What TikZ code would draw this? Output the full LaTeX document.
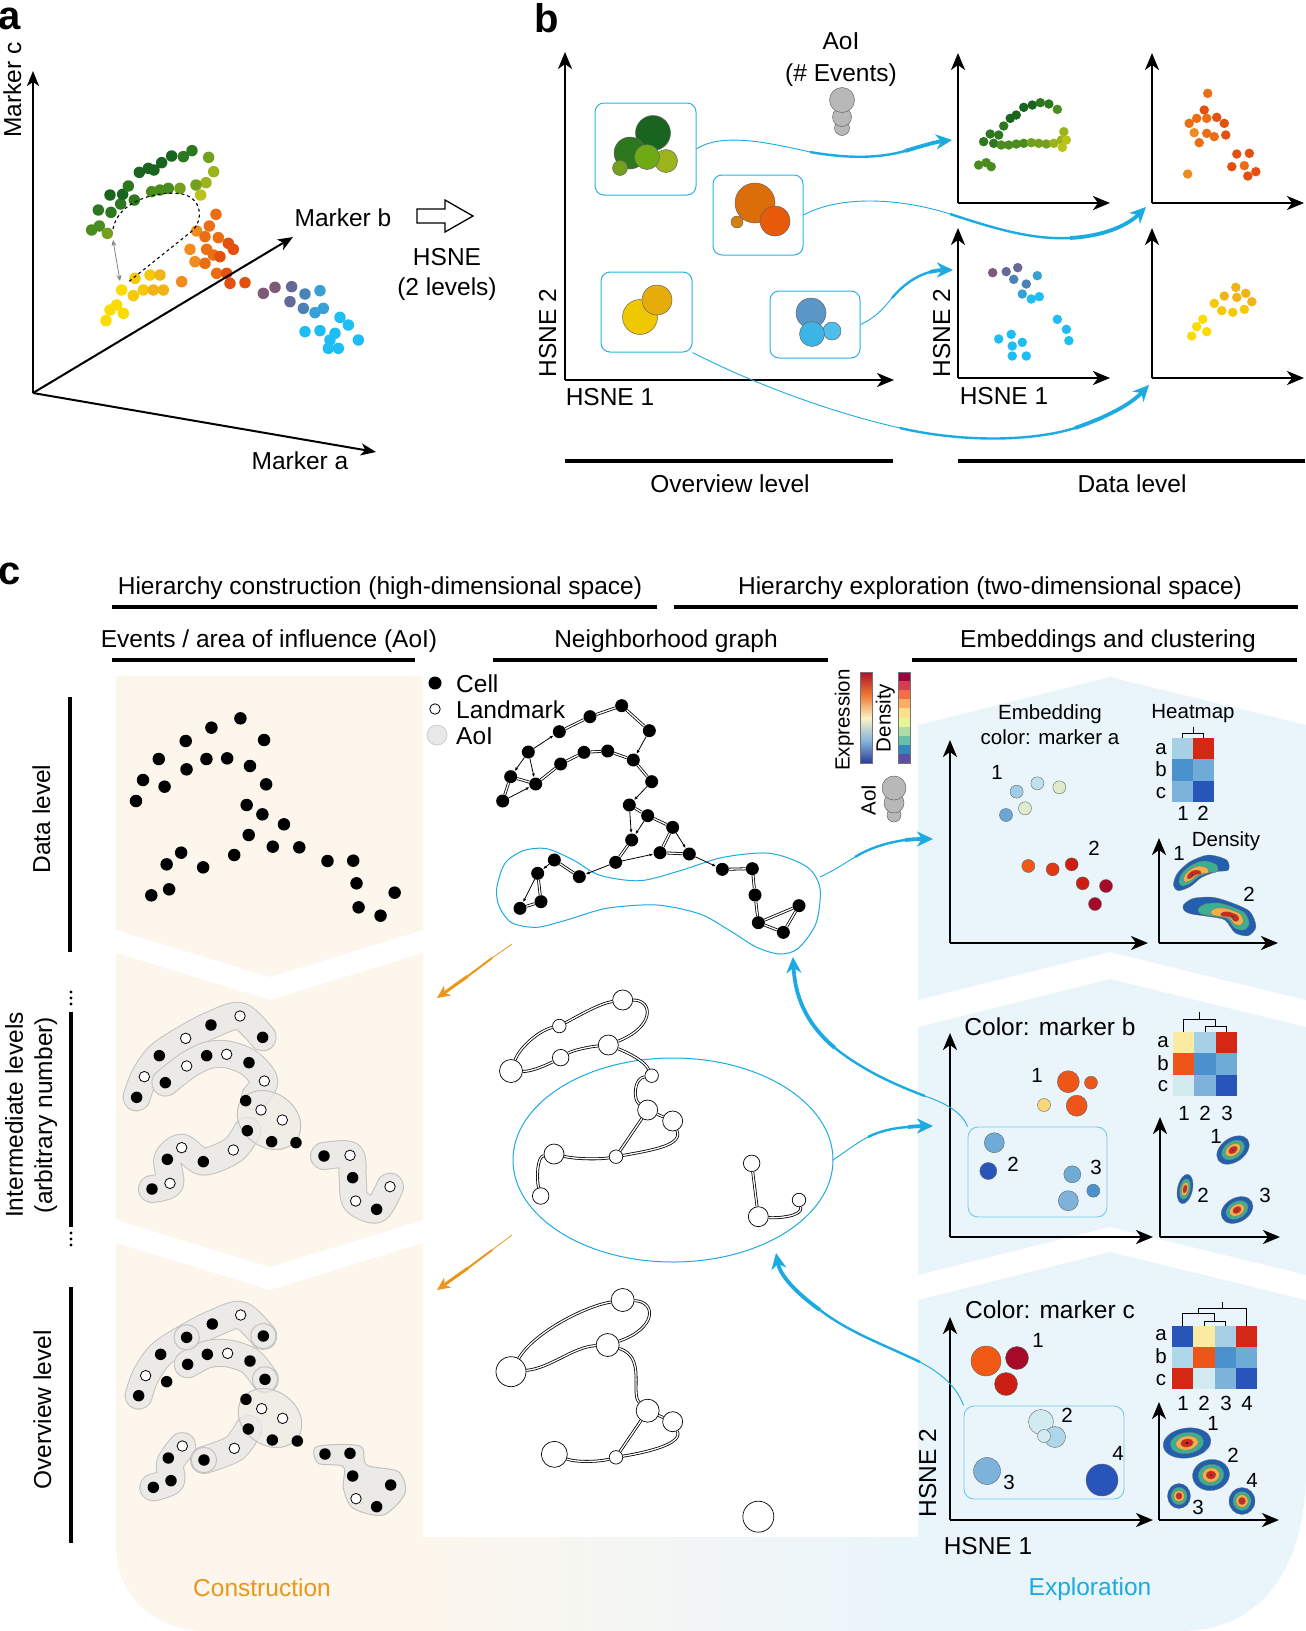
\documentclass[tikz,border=0pt]{standalone}
\usepackage{fontspec}
\setmainfont{Liberation Sans}
\usetikzlibrary{arrows.meta}
\definecolor{cyanA}{RGB}{27,170,226}
\definecolor{boxC}{RGB}{45,175,230}
\definecolor{boxD}{RGB}{110,200,236}
\definecolor{orA}{RGB}{236,150,25}
\definecolor{beigeC}{RGB}{252,246,237}
\definecolor{blueC}{RGB}{233,245,251}
\definecolor{gA}{RGB}{25,100,30}
\definecolor{gB}{RGB}{45,120,30}
\definecolor{gC}{RGB}{75,140,30}
\definecolor{gD}{RGB}{115,160,30}
\definecolor{gE}{RGB}{155,180,30}
\definecolor{gF}{RGB}{185,195,25}
\definecolor{oA}{RGB}{240,140,30}
\definecolor{oB}{RGB}{235,110,20}
\definecolor{oC}{RGB}{228,80,15}
\definecolor{yA}{RGB}{250,220,0}
\definecolor{yB}{RGB}{246,200,10}
\definecolor{yC}{RGB}{240,180,20}
\definecolor{pA}{RGB}{125,90,120}
\definecolor{pB}{RGB}{100,105,150}
\definecolor{pC}{RGB}{75,130,180}
\definecolor{pD}{RGB}{55,160,215}
\definecolor{pE}{RGB}{30,190,245}
\definecolor{bO1}{RGB}{220,110,10}
\definecolor{bO2}{RGB}{230,90,10}
\definecolor{bO3}{RGB}{210,130,20}
\definecolor{bY1}{RGB}{240,200,0}
\definecolor{bY2}{RGB}{230,172,10}
\definecolor{bB1}{RGB}{90,150,200}
\definecolor{bB2}{RGB}{60,180,230}
\definecolor{bB3}{RGB}{80,190,235}
\definecolor{bG3}{RGB}{110,170,20}
\definecolor{hLB}{RGB}{165,208,230}
\definecolor{hLC}{RGB}{175,215,235}
\definecolor{hR}{RGB}{212,40,20}
\definecolor{hMB}{RGB}{75,145,205}
\definecolor{hB2}{RGB}{110,172,215}
\definecolor{hB3}{RGB}{125,178,218}
\definecolor{hDB}{RGB}{40,85,185}
\definecolor{hY}{RGB}{250,235,160}
\definecolor{hY2}{RGB}{250,215,120}
\definecolor{hO}{RGB}{238,85,25}
\definecolor{hPB}{RGB}{210,235,240}
\definecolor{eA}{RGB}{160,205,230}
\definecolor{eB}{RGB}{190,225,235}
\definecolor{eC}{RGB}{222,236,205}
\definecolor{eD}{RGB}{110,165,215}
\definecolor{eE}{RGB}{240,90,20}
\definecolor{eF}{RGB}{225,55,20}
\definecolor{eG}{RGB}{205,30,20}
\definecolor{eH}{RGB}{165,10,40}
\definecolor{dB}{RGB}{35,95,175}
\definecolor{dT}{RGB}{60,175,145}
\definecolor{dO}{RGB}{245,175,70}
\definecolor{dR}{RGB}{215,35,25}
\definecolor{dK}{RGB}{110,0,20}
\definecolor{blobE}{RGB}{196,194,190}
\definecolor{blobF}{RGB}{236,234,230}
\definecolor{exA}{RGB}{170,20,40}
\definecolor{exB}{RGB}{240,120,50}
\definecolor{exC}{RGB}{250,242,195}
\definecolor{exD}{RGB}{130,180,220}
\definecolor{exE}{RGB}{45,60,150}
\definecolor{sp1}{RGB}{158,1,66}
\definecolor{sp2}{RGB}{213,62,79}
\definecolor{sp3}{RGB}{244,109,67}
\definecolor{sp4}{RGB}{253,174,97}
\definecolor{sp5}{RGB}{254,224,139}
\definecolor{sp6}{RGB}{230,245,152}
\definecolor{sp7}{RGB}{171,221,164}
\definecolor{sp8}{RGB}{102,194,165}
\definecolor{sp9}{RGB}{50,136,189}
\definecolor{sp10}{RGB}{94,79,162}
\begin{document}
\begin{tikzpicture}[x=1pt,y=-1pt,
  txt/.style={font=\fontsize{24.5}{28}\selectfont, inner sep=0pt, text height=18pt, text depth=0pt},
  stxt/.style={font=\fontsize{20.5}{24}\selectfont, inner sep=0pt, text height=15pt, text depth=0pt},
  bigl/.style={font=\fontsize{40}{44}\selectfont\bfseries, inner sep=0pt},
  pdot/.style={circle, inner sep=0pt, minimum size=#1},
  pdot/.default=11.5pt,
  axisA/.style={line width=2pt, -{Stealth[length=15pt,width=12pt,inset=4pt]}},
  axisB/.style={line width=2.4pt, -{Stealth[length=17pt,width=14pt,inset=5pt]}},
  hbar/.style={line width=4pt},
  t1/.style={draw=cyanA, line width=0.9pt},
  t2/.style={draw=cyanA, line width=2.4pt},
  t3/.style={draw=cyanA, line width=3.8pt, -{Stealth[length=16pt,width=15pt,inset=5pt]}},
  o1/.style={draw=orA, line width=0.8pt},
  o2/.style={draw=orA, line width=2pt},
  o3/.style={draw=orA, line width=3pt, -{Stealth[length=13pt,width=12pt,inset=4pt]}},
  gnode/.style={circle, fill=black, inner sep=0pt, minimum size=13pt},
  lnode/.style={circle, draw=black, fill=white, line width=0.7pt, inner sep=0pt, minimum size=#1},
  lnode/.default=16pt,
  opn/.style={circle, draw=black, fill=white, line width=0.8pt, inner sep=0pt, minimum size=10.5pt},
  fil/.style={circle, fill=black, inner sep=0pt, minimum size=11.5pt},
  dedge/.style={double, double distance=1.3pt, line width=0.8pt},
  sedge/.style={line width=0.8pt, -{Latex[length=4pt,width=3pt]}},
  bOut/.style={draw=blobE, line width=28pt, line cap=round, line join=round},
  bIn/.style={draw=blobF, line width=26pt, line cap=round, line join=round},
  embd/.style={circle, draw=black!60, line width=0.4pt, inner sep=0pt, minimum size=#1},
  embd/.default=13pt,
  selbox/.style={draw=boxC, line width=1pt, rounded corners=9pt, inner sep=0pt},
  selboxL/.style={draw=boxD, line width=0.9pt, rounded corners=10pt, inner sep=0pt},
  ball/.style={circle, fill=black!28, draw=black!60, line width=0.5pt, inner sep=0pt, minimum size=#1},
]
\useasboundingbox (0,0) rectangle (1306,1631);

%% ================= backgrounds of c
\fill[beigeC] (116,676) -- (423,676) -- (423,930) -- (270,977) -- (116,930) -- cycle;
\fill[beigeC] (116,953) -- (270,1000) -- (423,953) -- (423,1220) -- (270,1267) -- (116,1220) -- cycle;
\fill[beigeC] (116,1243) -- (270,1290) -- (423,1243) -- (423,1631) -- (206,1631) .. controls (156,1631) and (116,1597) .. (116,1547) -- cycle;
\shade[left color=beigeC, right color=blueC] (423,1537) rectangle (918,1631);
\fill[blueC] (918,725) -- (1110,677) -- (1306,725) -- (1306,1000) -- (1110,952) -- (918,1000) -- cycle;
\fill[blueC] (918,1027) -- (1110,979) -- (1306,1027) -- (1306,1275) -- (1110,1227) -- (918,1275) -- cycle;
\fill[blueC] (918,1300) -- (1110,1252) -- (1306,1300) -- (1306,1470) .. controls (1306,1570) and (1260,1631) .. (1180,1631) -- (918,1631) -- cycle;

%% ================= panel a
\node[bigl] (la) at (10,19) {a};
\node[txt, rotate=90] (lmc) at (12,90) {Marker c};
\coordinate (aO) at (33,393);
\coordinate (aC) at (33,71);
\coordinate (aB) at (293,237);
\coordinate (aA) at (376,452);
\begin{scope}[scale=0.33333]
\foreach \x/\y/\c [count=\i] in {275/690/gC, 298/678/gC, 322/700/gD, 295/630/gB, 333/637/gB, 362/612/gB, 330/585/gA, 368/583/gA, 403/600/gB, 385/558/gB, 418/517/gA, 445/505/gA, 462/510/gA, 485/488/gA, 515/468/gA, 550/470/gB, 576/452/gB, 626/472/gD, 641/515/gE, 618/548/gE, 588/555/gD, 602/585/gF, 455/575/gC, 480/570/gC, 505/565/gC, 540/565/gD,
 648/643/oB, 628/678/oB, 590/693/oA, 615/710/oB, 655/713/oB, 685/730/oC, 700/748/oC, 570/748/oA, 620/748/oB, 640/765/oB, 660/770/oC, 585/785/oA, 615/790/oB, 650/820/oB, 680/820/oC, 690/850/oC, 735/848/oC, 545/845/oA,
 405/835/yB, 450/825/yB, 480/825/yC, 365/870/yA, 400/887/yB, 430/870/yB, 460/870/yC, 490/870/yC, 350/915/yA, 330/930/yA, 370/940/yA, 318/962/yA,
 790/880/pA, 825/862/pA, 875/860/pB, 915/882/pC, 960/872/pD, 870/905/pB, 910/925/pC, 945/938/pD, 970/925/pD, 1020/952/pE, 1045/975/pE, 915/995/pE, 960/992/pE, 1005/1000/pE, 990/1020/pE, 1075/1020/pE, 985/1045/pE, 1015/1045/pE}
  \node[pdot, fill=\c] (ad\i) at (\x,\y) {};
\end{scope}
\draw[dashed, line width=1.1pt] (113,229) .. controls (118,200) and (160,190) .. (182,194) .. controls (202,198) and (204,220) .. (192,231) -- (127,283);
\draw[black!50, line width=0.8pt, {Stealth[length=6pt,width=5pt,open]}-{Stealth[length=6pt,width=5pt,open]}] (113,240) -- (120,281);
\draw[axisA] (aO) -- (aC);
\draw[axisA] (aO) -- (aB);
\draw[axisA] (aO) -- (aA);
\node[txt] (lmb) at (343,217) {Marker b};
\node[txt] (lma) at (300,460) {Marker a};
\draw[line width=1.3pt, line join=miter] (417,209) -- (445,209) -- (445,200) -- (473,216) -- (445,232) -- (445,223) -- (417,223) -- cycle;
\node[txt] (lhs) at (447,256) {HSNE};
\node[txt] (lhl) at (447,286) {(2 levels)};

%% ================= panel b
\node[bigl] (lb) at (547,18) {b};
\coordinate (bO) at (565,380);
\coordinate (bY) at (565,52);
\coordinate (bX) at (894,380);
\draw[axisB] (bO) -- (bY);
\draw[axisB] (bO) -- (bX);
\node[txt, rotate=90] (bh2) at (547,333) {HSNE 2};
\node[txt] (bh1) at (610,396) {HSNE 1};
\node[txt] (baoi) at (841,40) {AoI};
\node[txt] (bev) at (841,72) {(\# Events)};
\node[ball=15pt] (bg3) at (842,128) {};
\node[ball=19pt] (bg2) at (842,117) {};
\node[ball=25pt] (bg1) at (842,100) {};
\node[selbox, minimum width=101pt, minimum height=92pt] (boxG) at (645.5,149) {};
\node[selbox, minimum width=90pt, minimum height=80pt] (boxO) at (758,215) {};
\node[selbox, minimum width=91pt, minimum height=80pt] (boxY) at (646.5,312) {};
\node[selbox, minimum width=90pt, minimum height=67pt] (boxBl) at (815,324.5) {};
\begin{scope}[every node/.style={draw=black!60, line width=0.5pt}]
\node[pdot=35pt, fill=gA] (cg1) at (653,133) {};
\node[pdot=32pt, fill=gB] (cg2) at (630,153) {};
\node[pdot=23pt, fill=gE] (cg4) at (666,161) {};
\node[pdot=25pt, fill=bG3] (cg3) at (647,157) {};
\node[pdot=15pt, fill=gD] (cg5) at (620,168) {};
\node[pdot=12pt, fill=bO3] (co3) at (737,222) {};
\node[pdot=40pt, fill=bO1] (co1) at (755,203) {};
\node[pdot=30pt, fill=bO2] (co2) at (775,221) {};
\node[pdot=35pt, fill=bY1] (cy1) at (640,317) {};
\node[pdot=30pt, fill=bY2] (cy2) at (657,300) {};
\node[pdot=30pt, fill=bB1] (cb1) at (811,313) {};
\node[pdot=18pt, fill=bB3] (cb3) at (832,331) {};
\node[pdot=25pt, fill=bB2] (cb2) at (812,334) {};
\end{scope}
\foreach \ox/\oy [count=\i] in {958/203, 1152/203, 958/378, 1152/378} {
  \coordinate (so\i) at (\ox,\oy);
  \draw[axisB] (so\i) -- ++(0,-150);
  \draw[axisB] (so\i) -- ++(152,0);
}
\node[txt, rotate=90] (bh2b) at (941,333) {HSNE 2};
\node[txt] (bh1b) at (1004,395) {HSNE 1};
\begin{scope}[shift={(520,0)}, xscale=0.50125, yscale=0.33333]
\foreach \x/\y/\c [count=\i] in {915/495/gC, 930/488/gC, 940/500/gC, 925/425/gB, 938/402/gB, 955/405/gB, 945/430/gB, 965/378/gB, 978/355/gA, 990/345/gA, 1005/322/gA, 1022/315/gA, 1038/308/gB, 1055/312/gB, 1072/328/gC, 960/435/gC, 975/435/gC, 990/432/gC, 1005/430/gC, 1020/428/gD, 1035/430/gD, 1050/432/gD, 1065/430/gE, 1080/420/gE, 1085/395/gE, 1090/420/gF, 1082/442/gF,
 1372/280/oB, 1365/330/oC, 1335/370/oB, 1350/355/oB, 1370/355/oB, 1390/352/oC, 1405/370/oC, 1345/398/oA, 1370/400/oB, 1385/410/oB, 1408/405/oC, 1355/428/oB, 1430/462/oC, 1455/460/oC, 1420/500/oC, 1445/497/oB, 1468/515/oC, 1452/528/oC, 1332/522/oA,
 943/818/pA, 970/815/pB, 993/803/pB, 985/838/pC, 1010/852/pC, 1032/827/pD, 1002/882/pD, 1020/897/pE, 1036/890/pE, 955/1017/pE, 980/1003/pE, 982/1038/pE, 1002/1027/pE, 982/1068/pE, 1010/1068/pE, 1072/958/pE, 1090/988/pE, 1095/1022/pE,
 1428/862/yC, 1405/888/yC, 1430/892/yC, 1448/880/yC, 1460/905/yC, 1385/910/yB, 1400/932/yB, 1422/937/yB, 1445/928/yB, 1362/958/yA, 1350/980/yA, 1370/995/yA, 1340/1008/yA}
  \node[pdot=9.5pt, fill=\c] (bd\i) at (\x,\y) {};
\end{scope}
% cyan arrows b
\draw[t1] (boxG.east) .. controls (722,132) and (770,143) .. (810,152);
\draw[t2] (810,152) .. controls (850,159) and (880,158) .. (905,151);
\draw[t3] (905,151) .. controls (922,146) and (935,142) .. (952,140);
\draw[t1] (boxO.east) .. controls (840,195) and (900,198) .. (950,214);
\draw[t2] (950,214) .. controls (990,227) and (1030,240) .. (1070,238);
\draw[t3] (1070,238) .. controls (1105,236) and (1128,225) .. (1146,207);
\draw[t1] (boxBl.east) .. controls (875,318) and (882,310) .. (892,298);
\draw[t2] (892,298) .. controls (902,286) and (915,276) .. (930,272);
\draw[t3] (930,272) .. controls (938,270) and (944,270) .. (953,270);
\draw[t1] (boxY.south east) .. controls (740,377) and (820,410) .. (900,428);
\draw[t2] (900,428) .. controls (960,442) and (1030,442) .. (1075,428);
\draw[t3] (1075,428) .. controls (1110,416) and (1132,403) .. (1149,385);
\draw[hbar] (565,461) -- (893,461);
\draw[hbar] (958,461) -- (1305,461);
\node[txt] (bov) at (730,483) {Overview level};
\node[txt] (bdl) at (1132,483) {Data level};

%% ================= panel c headers
\node[bigl] (lc) at (10,574) {c};
\node[txt] (h1) at (380,585) {Hierarchy construction (high-dimensional space)};
\draw[hbar] (112,607) -- (657,607);
\node[txt] (h2) at (990,585) {Hierarchy exploration (two-dimensional space)};
\draw[hbar] (674,607) -- (1298,607);
\node[txt] (h3) at (269,638) {Events / area of influence (AoI)};
\draw[hbar] (112,660) -- (415,660);
\node[txt] (h4) at (666,638) {Neighborhood graph};
\draw[hbar] (493,660) -- (828,660);
\node[txt] (h5) at (1108,638) {Embeddings and clustering};
\draw[hbar] (912,660) -- (1297,660);
% left labels
\node[txt, rotate=90] (ldl) at (41,819) {Data level};
\draw[hbar] (70,697) -- (70,952);
\node[txt, rotate=90] (lil1) at (14,1115) {Intermediate levels};
\node[txt, rotate=90] (lil2) at (43,1115) {(arbitrary number)};
\draw[hbar] (71,1012) -- (71,1227);
\foreach \yy in {992,998,1004,1233,1239,1245} \fill (71,\yy) circle[radius=1.7];
\node[txt, rotate=90] (lov) at (42,1410) {Overview level};
\draw[hbar] (71,1287) -- (71,1543);

%% ================= c row 1 left: cells
\begin{scope}[shift={(0,540)}, xscale=0.41455, yscale=0.33333]
\foreach \x/\y [count=\i] in {580/535, 510/563, 448/603, 637/600, 383/657, 498/657, 548/655, 450/688, 603/678, 345/720, 397/740, 642/733, 328/783, 595/795, 633/823, 685/853, 600/885, 437/938, 402/973, 490/982, 565/945, 658/920, 722/922, 790/963, 852/962, 860/1030, 408/1048, 365/1066, 952/1058, 865/1102, 918/1127}
  \node[fil, minimum size=12.5pt] (c1d\i) at (\x,\y) {};
\end{scope}

%% ================= c row 2 left: intermediate AoI
\begin{scope}[shift={(0,940)}, scale=0.33333]
\draw[bOut] plot[smooth] coordinates {(410,472) (433,410) (478,347) (557,295) (633,255) (720,228) (788,292)};
\draw[bIn] plot[smooth] coordinates {(410,472) (433,410) (478,347) (557,295) (633,255) (720,228) (788,292)};
\draw[bOut] plot[smooth] coordinates {(496,428) (560,378) (620,347) (680,343) (747,368) (793,423) (765,470)};
\draw[bIn] plot[smooth] coordinates {(496,428) (560,378) (620,347) (680,343) (747,368) (793,423) (765,470)};
\draw[bOut] plot[smooth] coordinates {(456,747) (510,730) (502,658) (545,623) (610,665) (700,630) (742,572)};
\draw[bIn] plot[smooth] coordinates {(456,747) (510,730) (502,658) (545,623) (610,665) (700,630) (742,572)};
\draw[bOut] plot[smooth] coordinates {(972,648) (1050,646) (1058,713) (1067,783) (1130,808) (1170,740)};
\draw[bIn] plot[smooth] coordinates {(972,648) (1050,646) (1058,713) (1067,783) (1130,808) (1170,740)};
\end{scope}
\filldraw[fill=blobF, draw=blobE, line width=1pt, fill opacity=0.75] (269,1120) ellipse [x radius=34, y radius=27, rotate=-35];
\begin{scope}[shift={(0,940)}, scale=0.33333]
\foreach \x/\y [count=\i] in {633/255, 788/292, 478/347, 410/472, 620/347, 747/368, 496/428, 737/482, 742/572, 815/605, 888/608, 502/658, 610/665, 456/747, 972/648, 1058/713, 1130/808}
  \node[fil] (c2f\i) at (\x,\y) {};
\foreach \x/\y [count=\i] in {720/228, 557/295, 433/410, 560/378, 680/343, 793/423, 783/510, 847/540, 700/630, 545/623, 510/730, 1050/646, 1170/740, 1067/783}
  \node[opn] (c2o\i) at (\x,\y) {};
\end{scope}

%% ================= c row 3 left: overview AoI
\begin{scope}[shift={(0,1230)}, scale=0.33333]
\draw[bOut] plot[smooth] coordinates {(416,497) (437,437) (482,373) (560,322) (637,282) (722,255) (790,318)};
\draw[bIn] plot[smooth] coordinates {(416,497) (437,437) (482,373) (560,322) (637,282) (722,255) (790,318)};
\draw[bOut] plot[smooth] coordinates {(563,403) (622,373) (683,370) (750,393) (795,448)};
\draw[bIn] plot[smooth] coordinates {(563,403) (622,373) (683,370) (750,393) (795,448)};
\draw[bOut] plot[smooth] coordinates {(460,772) (513,752) (510,700) (547,648)};
\draw[bIn] plot[smooth] coordinates {(460,772) (513,752) (510,700) (547,648)};
\draw[bOut] plot[smooth] coordinates {(612,690) (703,655) (745,597)};
\draw[bIn] plot[smooth] coordinates {(612,690) (703,655) (745,597)};
\filldraw[fill=blobF, draw=blobE, line width=1pt] plot[smooth cycle] coordinates {(950,650) (1080,648) (1100,705) (1195,725) (1215,790) (1150,855) (1060,835) (1030,775) (1030,710) (955,700)};
\foreach \x/\y in {560/322, 790/318, 795/448, 612/690}
  \filldraw[fill=blobF, draw=blobE, line width=1pt, fill opacity=0.7] (\x,\y) circle[radius=38];
\end{scope}
\filldraw[fill=blobF, draw=blobE, line width=1pt, fill opacity=0.75] (270,1418) ellipse [x radius=34, y radius=27, rotate=-35];
\begin{scope}[shift={(0,1230)}, scale=0.33333]
\foreach \x/\y [count=\i] in {637/282, 790/318, 560/322, 482/373, 622/373, 750/393, 563/403, 500/455, 416/497, 795/448, 738/508, 745/597, 817/630, 892/633, 505/684, 612/690, 513/752, 460/772, 975/672, 1050/670, 1058/738, 1172/765, 1130/830}
  \node[fil] (c3f\i) at (\x,\y) {};
\foreach \x/\y [count=\i] in {722/255, 683/370, 437/437, 785/536, 848/565, 703/655, 547/648, 1068/806}
  \node[opn] (c3o\i) at (\x,\y) {};
\end{scope}

%% ================= legend
\node[fil, minimum size=13pt] (lgc) at (435,683) {};
\node[txt, anchor=west] (lgct) at (456,683) {Cell};
\node[opn] (lgl) at (435,709) {};
\node[txt, anchor=west] (lglt) at (456,709) {Landmark};
\node[circle, fill=black!9, draw=black!20, line width=0.8pt, inner sep=0pt, minimum size=20pt] (lga) at (437,735) {};
\node[txt, anchor=west] (lgat) at (456,735) {AoI};

%% ================= c row 1 middle: neighborhood graph
\draw[cyanA, line width=1pt] plot[smooth cycle] coordinates {(496.7,888.3) (505,863.3) (523.3,850.7) (546.7,848.7) (573.3,860) (600,875.3) (640,880.7) (680,870.7) (723.3,857.3) (770,853.3) (806.7,866.7) (820,888.3) (816,923.3) (798.3,948.3) (780,954) (756.7,947.3) (730,930.7) (700,914) (656.7,905) (606.7,908.3) (566.7,920) (536.7,927.3) (511.7,922.7) (499.3,906.7)};
\begin{scope}[shift={(440,640)}, scale=0.33333]
\foreach \x/\y [count=\i] in {545/197, 628/272, 450/230, 358/275, 265/336, 212/410, 188/483, 287/432, 362/372, 432/337, 503/333, 580/360, 635/425, 568/495, 623/527, 698/562, 575/600, 527/667, 660/638, 748/642, 343/660, 293/700, 418/710, 240/805, 303/785, 847/688, 937/686, 945/765, 955/848, 1030/877, 1077/797}
  \node[gnode] (g\i) at (\x,\y) {};
\end{scope}
\foreach \a/\b in {3/1, 1/2, 4/3, 6/8, 6/7, 8/9, 9/10, 10/11, 11/12, 12/13, 14/15, 15/16, 16/19, 19/20, 17/18, 23/21, 22/25, 24/25, 26/27, 27/28, 28/29, 29/30, 29/31, 30/31}
  \draw[dedge] (g\a) -- (g\b);
\foreach \a/\b in {2/12, 5/4, 5/6, 5/8, 7/8, 13/14, 14/17, 15/17, 16/20, 18/19, 18/23, 21/22, 22/24, 20/26}
  \draw[sedge] (g\a) -- (g\b);

%% ================= c row 2 middle
\draw[cyanA, line width=1pt] (673,1160) ellipse [x radius=160, y radius=102];
\begin{scope}[shift={(400,950)}, scale=0.33333]
\node[lnode=20pt] (L1) at (668,150) {};
\node[lnode=13.5pt] (L2) at (478,228) {};
\node[lnode=20pt] (L3) at (625,285) {};
\node[lnode=23pt] (L4) at (333,363) {};
\node[lnode=16.5pt] (L5) at (482,323) {};
\node[lnode=13.5pt] (L6) at (755,377) {};
\node[lnode=20pt] (L7) at (743,480) {};
\node[lnode=20pt] (L8) at (818,513) {};
\node[lnode=20pt] (L9) at (462,612) {};
\node[lnode=13.5pt] (L10) at (648,620) {};
\node[lnode=16.5pt] (L11) at (422,738) {};
\node[lnode=16.5pt] (L12) at (1055,640) {};
\node[lnode=20pt] (L13) at (1075,800) {};
\node[lnode=13.5pt] (L14) at (1197,750) {};
\draw[dedge] (L4) .. controls (360,290) and (420,240) .. (L2);
\draw[dedge] (L2) .. controls (540,195) and (600,160) .. (L1);
\draw[dedge] (L1) .. controls (760,150) and (765,230) .. (L3);
\draw[dedge] (L3) .. controls (570,290) and (520,300) .. (L5);
\draw[dedge] (L5) .. controls (430,350) and (390,365) .. (L4);
\draw[dedge] (L3) .. controls (690,310) and (735,335) .. (L6);
\draw[dedge] (L6) .. controls (700,385) and (700,450) .. (L7);
\draw[dedge] (L7) -- (L8);
\draw[dedge] (L7) -- (L10);
\draw[dedge] (L8) .. controls (850,585) and (760,600) .. (L10);
\draw[dedge] (L10) .. controls (600,628) and (530,628) .. (L9);
\draw[dedge] (L9) .. controls (410,620) and (410,690) .. (L11);
\draw[dedge] (L12) -- (L13);
\draw[dedge] (L13) .. controls (1130,805) and (1210,800) .. (L14);
\end{scope}

%% ================= c row 3 middle
\begin{scope}[shift={(400,1240)}, scale=0.33333]
\node[lnode=23pt] (M1) at (668,180) {};
\node[lnode=23pt] (M2) at (623,315) {};
\node[lnode=30pt] (M3) at (333,395) {};
\node[lnode=23pt] (M4) at (743,512) {};
\node[lnode=20pt] (M5) at (818,545) {};
\node[lnode=26pt] (M6) at (463,643) {};
\node[lnode=13.5pt] (M7) at (648,652) {};
\node[lnode=31pt] (M8) at (1075,830) {};
\draw[dedge] (M3) .. controls (400,280) and (550,200) .. (M1);
\draw[dedge] (M1) .. controls (770,185) and (770,265) .. (M2);
\draw[dedge] (M2) .. controls (520,320) and (450,385) .. (M3);
\draw[dedge] (M2) .. controls (740,350) and (690,460) .. (M4);
\draw[dedge] (M4) -- (M5);
\draw[dedge] (M4) -- (M7);
\draw[dedge] (M5) .. controls (850,610) and (750,635) .. (M7);
\draw[dedge] (M7) .. controls (600,665) and (530,668) .. (M6);
\end{scope}

%% ================= colour legends
\node[stxt, rotate=90] (lexp) at (842,720) {Expression};
\shade[top color=exA, bottom color=exB] (860,672) rectangle (872,695);
\shade[top color=exB, bottom color=exC] (860,695) rectangle (872,718);
\shade[top color=exC, bottom color=exD] (860,718) rectangle (872,741);
\shade[top color=exD, bottom color=exE] (860,741) rectangle (872,763);
\draw[black!55, line width=0.4pt] (860,672) rectangle (872,763);
\node[stxt, rotate=90] (lden) at (883,718) {Density};
\foreach \c [count=\i from 0] in {sp1,sp2,sp3,sp4,sp5,sp6,sp7,sp8,sp9,sp10}
  \fill[\c] (898,672+\i*9.1) rectangle (910,681.2+\i*9.1);
\draw[black!55, line width=0.4pt] (898,672) rectangle (910,763);
\node[stxt, rotate=90] (laoi) at (868,800) {AoI};
\node[ball=14pt] (lb3) at (894,815) {};
\node[ball=20pt] (lb2) at (894,803) {};
\node[ball=24pt] (lb1) at (894,788) {};

%% ================= right column panel 1
\node[stxt] (e1t) at (1050,712) {Embedding};
\node[stxt] (e1u) at (1050,737) {color: marker a};
\coordinate (p1O) at (950,943);
\draw[axisB] (p1O) -- (950,740);
\draw[axisB] (p1O) -- (1148,943);
\node[stxt] (p1n1) at (997,772) {1};
\node[stxt] (p1n2) at (1094,848) {2};
\begin{scope}[shift={(900,640)}, scale=0.33333]
\foreach \x/\y/\c [count=\i] in {350/455/eA, 412/430/eB, 478/442/eC, 375/505/eC, 318/525/eD, 385/678/eE, 458/688/eF, 515/673/eG, 548/730/eG, 618/738/eH, 585/792/eH}
  \node[embd, fill=\c] (p1d\i) at (\x,\y) {};
\end{scope}
\node[stxt] (hm1) at (1193,711) {Heatmap};
\foreach \c [count=\i from 0] in {hLB,hMB,hB3} \fill[\c] (1172,738+\i*21.3) rectangle ++(20.8,21.3);
\foreach \c [count=\i from 0] in {hR,hB2,hDB} \fill[\c] (1192.8,738+\i*21.3) rectangle ++(20.8,21.3);
\draw[line width=0.8pt] (1182.5,738) -- (1182.5,733) -- (1203.2,733) -- (1203.2,738);
\draw[line width=0.8pt] (1193,733) -- (1193,727);
\node[stxt] (hm1a) at (1161,747) {a};
\node[stxt] (hm1b) at (1161,769) {b};
\node[stxt] (hm1c) at (1161,791) {c};
\node[stxt] (hm1x1) at (1183,813) {1};
\node[stxt] (hm1x2) at (1203,813) {2};
\node[stxt] (den1) at (1226,839) {Density};
\coordinate (q1O) at (1159,943);
\draw[axisB] (q1O) -- (1159,838);
\draw[axisB] (q1O) -- (1278,943);
\foreach \s/\c in {0.33333/dB,0.23333/dT,0.15/dO,0.08333/dR,0.022/dK}
  \filldraw[fill=\c, draw=black!55, line width=0.3pt, shift={(1191.7,875)}, scale=\s] plot[smooth cycle] coordinates {(-55,30) (-43,-5) (-5,-40) (50,-60) (105,-45) (110,-15) (75,-10) (30,7) (-5,35) (-40,47)};
\foreach \s/\c in {0.33333/dB,0.23333/dT,0.15/dO,0.08333/dR,0.022/dK}
  \filldraw[fill=\c, draw=black!55, line width=0.3pt, shift={(1233.3,916.7)}, scale=\s] plot[smooth cycle] coordinates {(-150,-35) (-120,-55) (-60,-58) (0,-40) (50,-15) (68,30) (45,57) (5,48) (-25,10) (-70,0) (-125,-8) (-147,-18)};
\node[stxt] (d1n1) at (1179,853) {1};
\node[stxt] (d1n2) at (1249,894) {2};

%% ================= right column panel 2
\node[txt] (e2t) at (1050,1026) {Color: marker b};
\coordinate (p2O) at (950,1237);
\draw[axisB] (p2O) -- (950,1033);
\draw[axisB] (p2O) -- (1153,1237);
\node[selboxL, minimum width=139pt, minimum height=90pt] (selB) at (1037.5,1172) {};
\begin{scope}[shift={(900,980)}]
\node[embd=22pt, fill=hO] (p2d1) at (168.3,101.7) {};
\node[embd=13pt, fill=hO] (p2d2) at (191,102.7) {};
\node[embd=21pt, fill=hO] (p2d3) at (176.7,125.7) {};
\node[embd=13pt, fill=hY2] (p2d4) at (144,125) {};
\node[embd=20pt, fill=hB2] (p2d5) at (94.3,162.7) {};
\node[embd=17pt, fill=hDB] (p2d6) at (88.3,191) {};
\node[embd=17pt, fill=hB2] (p2d7) at (172.3,194.3) {};
\node[embd=13pt, fill=hMB] (p2d8) at (193.3,210.7) {};
\node[embd=20pt, fill=hB3] (p2d9) at (168.3,220.7) {};
\end{scope}
\node[stxt] (p2n1) at (1037,1075) {1};
\node[stxt] (p2n2) at (1013,1164) {2};
\node[stxt] (p2n3) at (1096,1167) {3};
\foreach \c [count=\i from 0] in {hY,hO,hPB} \fill[\c] (1173,1032+\i*21.3) rectangle ++(21.3,21.3);
\foreach \c [count=\i from 0] in {hLB,hMB,hB3} \fill[\c] (1194.3,1032+\i*21.3) rectangle ++(21.3,21.3);
\foreach \c [count=\i from 0] in {hR,hB2,hDB} \fill[\c] (1215.6,1032+\i*21.3) rectangle ++(21.3,21.3);
\draw[line width=0.8pt] (1205,1032) -- (1205,1026) -- (1226.3,1026) -- (1226.3,1032);
\draw[line width=0.8pt] (1215.7,1026) -- (1215.7,1019) -- (1183.7,1019) -- (1183.7,1032);
\draw[line width=0.8pt] (1199.7,1019) -- (1199.7,1012);
\node[stxt] (hm2a) at (1163,1040) {a};
\node[stxt] (hm2b) at (1163,1063) {b};
\node[stxt] (hm2c) at (1163,1084) {c};
\node[stxt] (hm2x1) at (1184,1113) {1};
\node[stxt] (hm2x2) at (1205,1113) {2};
\node[stxt] (hm2x3) at (1227,1113) {3};
\coordinate (q2O) at (1160,1237);
\draw[axisB] (q2O) -- (1160,1117);
\draw[axisB] (q2O) -- (1280,1237);

%% ================= right column panel 3
\node[txt] (e3t) at (1050,1309) {Color: marker c};
\coordinate (p3O) at (950,1520);
\draw[axisB] (p3O) -- (950,1317);
\draw[axisB] (p3O) -- (1153,1520);
\node[txt, rotate=90] (p3h2) at (927,1473) {HSNE 2};
\node[txt] (p3h1) at (988,1545) {HSNE 1};
\node[selboxL, minimum width=160pt, minimum height=93pt] (selC) at (1044,1452.5) {};
\node[embd=30pt, fill=eE] (p3d1) at (986,1361) {};
\node[embd=23pt, fill=eH] (p3d2) at (1017,1358) {};
\node[embd=23pt, fill=eG] (p3d3) at (1006,1384) {};
\node[embd=25pt, fill=hPB] (p3d4) at (1041,1422) {};
\node[embd=21pt, fill=hLC] (p3d5) at (1055,1437) {};
\node[embd=13pt, fill=hPB] (p3d6) at (1044,1436) {};
\node[embd=27pt, fill=hB3] (p3d7) at (987,1471) {};
\node[embd=32pt, fill=hDB] (p3d8) at (1102,1480) {};
\node[stxt] (p3n1) at (1038,1340) {1};
\node[stxt] (p3n2) at (1067,1415) {2};
\node[stxt] (p3n3) at (1009,1482) {3};
\node[stxt] (p3n4) at (1118,1453) {4};
\foreach \c [count=\i from 0] in {hDB,hLC,hR} \fill[\c] (1172,1326+\i*21) rectangle ++(21.25,21);
\foreach \c [count=\i from 0] in {hY,hO,hPB} \fill[\c] (1193.25,1326+\i*21) rectangle ++(21.25,21);
\foreach \c [count=\i from 0] in {hLB,hMB,hB3} \fill[\c] (1214.5,1326+\i*21) rectangle ++(21.25,21);
\foreach \c [count=\i from 0] in {hR,hB2,hDB} \fill[\c] (1235.75,1326+\i*21) rectangle ++(21.25,21);
\draw[line width=0.8pt] (1203.9,1326) -- (1203.9,1321) -- (1225.1,1321) -- (1225.1,1326);
\draw[line width=0.8pt] (1214.5,1321) -- (1214.5,1313) -- (1182.6,1313) -- (1182.6,1326);
\draw[line width=0.8pt] (1198.5,1313) -- (1198.5,1308) -- (1246.4,1308) -- (1246.4,1326);
\draw[line width=0.8pt] (1222.5,1308) -- (1222.5,1302);
\node[stxt] (hm3a) at (1161,1333) {a};
\node[stxt] (hm3b) at (1161,1356) {b};
\node[stxt] (hm3c) at (1161,1378) {c};
\node[stxt] (hm3x1) at (1183,1403) {1};
\node[stxt] (hm3x2) at (1204,1403) {2};
\node[stxt] (hm3x3) at (1226,1403) {3};
\node[stxt] (hm3x4) at (1247,1403) {4};
\coordinate (q3O) at (1159,1520);
\draw[axisB] (q3O) -- (1159,1402);
\draw[axisB] (q3O) -- (1279,1520);

%% density ellipses panels 2 and 3
\foreach \cx/\cy/\rx/\ry/\rot in {1233/1150/18/12/35, 1185/1189/7.5/15/-12, 1237/1210/17/12/30, 1187/1443/24/15/8, 1211/1475/18.5/15.5/8, 1179/1496/11.5/12.5/0, 1242/1501/13/13.5/0}
  \foreach \s/\c in {1/dB,0.7/dT,0.47/dO,0.27/dR,0.09/dK}
    \filldraw[fill=\c, draw=black!55, line width=0.3pt, shift={(\cx,\cy)}, rotate=\rot, scale=\s] (0,0) ellipse [x radius=\rx, y radius=\ry];
\node[stxt] (d2n1) at (1216,1136) {1};
\node[stxt] (d2n2) at (1203,1195) {2};
\node[stxt] (d2n3) at (1265,1195) {3};
\node[stxt] (d3n1) at (1213,1423) {1};
\node[stxt] (d3n2) at (1233,1455) {2};
\node[stxt] (d3n3) at (1198,1507) {3};
\node[stxt] (d3n4) at (1252,1480) {4};

%% ================= arrows c
\coordinate (cc1) at (820,877);
\coordinate (cc2) at (833,1160);
\draw[t1] (cc1) .. controls (835,870) and (845,863) .. (855,857);
\draw[t2] (855,857) .. controls (870,848) and (885,843) .. (905,840);
\draw[t3] (905,840) .. controls (915,839) and (922,839) .. (933,839);
\draw[t1] (cc2) .. controls (845,1152) and (855,1144) .. (868,1137);
\draw[t2] (868,1137) .. controls (880,1131) and (893,1128) .. (908,1127);
\draw[t3] (908,1127) .. controls (918,1126) and (925,1126) .. (933,1126);
\draw[t1] (selB.north west) .. controls (962,1112) and (945,1103) .. (925,1096);
\draw[t2] (925,1096) .. controls (890,1083) and (860,1068) .. (835,1048);
\draw[t3] (835,1048) .. controls (805,1023) and (795,995) .. (793,957);
\draw[t1] (selC.north west) .. controls (958,1390) and (945,1375) .. (920,1362);
\draw[t2] (920,1362) .. controls (885,1345) and (850,1333) .. (820,1310);
\draw[t3] (820,1310) .. controls (795,1292) and (780,1275) .. (776,1253);
\draw[o1] (512,944) -- (492,958);
\draw[o2] (492,958) -- (468,976);
\draw[o3] (468,976) -- (437,998);
\draw[o1] (512,1235) -- (492,1250);
\draw[o2] (492,1250) -- (468,1268);
\draw[o3] (468,1268) -- (437,1290);

\node[txt, text=orA] (lcons) at (262,1587) {Construction};
\node[txt, text=cyanA] (lexpl) at (1090,1586) {Exploration};
\end{tikzpicture}
\end{document}
